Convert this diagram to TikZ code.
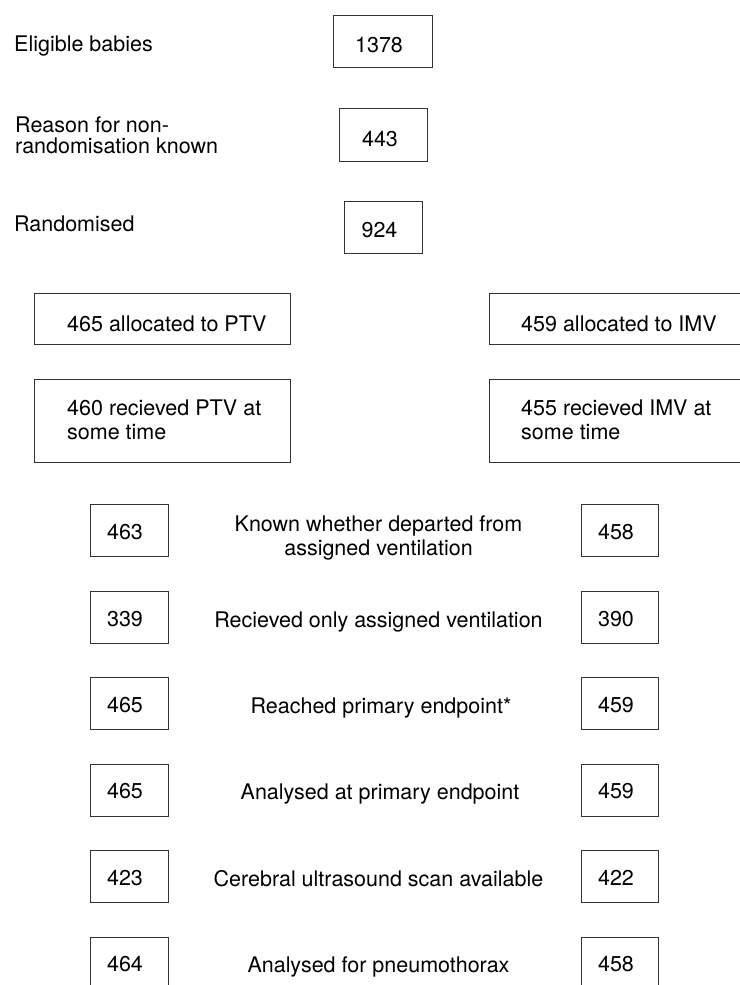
\documentclass[tikz,border=0pt]{standalone}
\usepackage{fontspec}
\setmainfont{TeX Gyre Heros}
\begin{document}
\begin{tikzpicture}[x=1pt,y=-1pt,
  every node/.style={font=\fontsize{21.5}{24}\selectfont},
  box/.style={draw=black!80, line width=0.9pt, inner sep=0pt, fill=none},
  numbox/.style={box, minimum width=78pt, minimum height=52pt},
  widebox/.style={box, minimum width=256pt, minimum height=51pt},
  tallbox/.style={box, minimum width=256pt, minimum height=83pt},
  txt/.style={inner sep=0pt, anchor=base},
  ltxt/.style={inner sep=0pt, anchor=base west, align=left},
  ctxt/.style={inner sep=0pt, anchor=base, align=center}]
\useasboundingbox (0,0) rectangle (739,985);
\fill[white] (0,0) rectangle (739,985);

% top section
\node[ltxt] (lelig) at (14,51.7) {Eligible babies};
\node[ltxt, font=\fontsize{21.5}{21}\selectfont] (lreason) at (15,153) {Reason for non-\\randomisation known};
\node[ltxt] (lrand) at (14,231.7) {Randomised};

\node[box, minimum width=99pt, minimum height=52pt] (b1378) at (382.5,41) {};
\node[box, minimum width=88pt, minimum height=53pt] (b443) at (383,134.5) {};
\node[box, minimum width=78pt, minimum height=52pt] (b924) at (383,227) {};
\node[txt] (t1378) at (379,52) {1378};
\node[txt] (t443) at (380,146) {443};
\node[txt] (t924) at (379.5,237) {924};

% allocation boxes
\node[widebox] (bptv) at (162,318.5) {};
\node[widebox] (bimv) at (617,318.5) {};
\node[tallbox] (bptv2) at (162,420.5) {};
\node[tallbox] (bimv2) at (617,420.5) {};
\node[ltxt] (tptv) at (67,331) {465 allocated to PTV};
\node[ltxt] (timv) at (521,331) {459 allocated to IMV};
\node[ltxt] (tptv2) at (67,439) {460 recieved PTV at\\some time};
\node[ltxt] (timv2) at (521,439) {455 recieved IMV at\\some time};

% outcome rows
\foreach \nm/\cy/\lv/\rv in {r1/530.5/463/458, r2/617.5/339/390, r3/703.5/465/459, r4/790/465/459, r5/876.5/423/422, r6/963/464/458}{
  \node[numbox] (L\nm) at (129,\cy) {};
  \node[numbox, minimum width=77pt] (R\nm) at (619.5,\cy) {};
  \node[txt, yshift=-8.5pt] (Lt\nm) at (125,\cy) {\lv};
  \node[txt, yshift=-8.5pt] (Rt\nm) at (616,\cy) {\rv};
}
\node[ctxt] (m1) at (378.5,555) {Known whether departed from\\assigned ventilation};
\node[ctxt] (m2) at (378.5,627) {Recieved only assigned ventilation};
\node[ctxt] (m3) at (381,713) {Reached primary endpoint*};
\node[ctxt] (m4) at (380,799) {Analysed at primary endpoint};
\node[ctxt] (m5) at (378.5,886) {Cerebral ultrasound scan available};
\node[ctxt] (m6) at (378.5,972) {Analysed for pneumothorax};
\end{tikzpicture}
\end{document}
